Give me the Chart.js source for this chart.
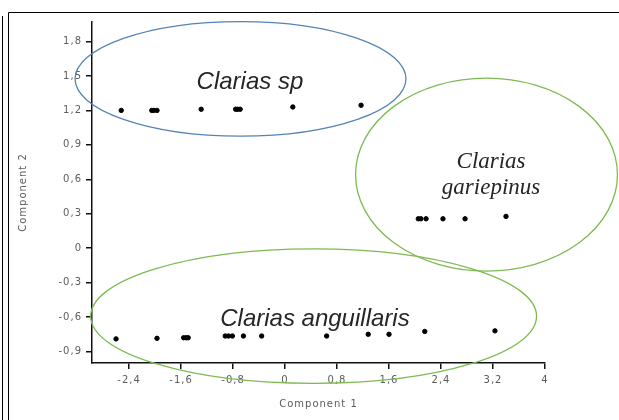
<!DOCTYPE html>
<html>
<head>
<meta charset="utf-8">
<script src="https://cdn.jsdelivr.net/npm/chart.js@4.4.0/dist/chart.umd.min.js"></script>
<style>
  body { margin: 0; background: #fff; }
  #wrap { width: 619px; height: 420px; }
</style>
</head>
<body>
<div id="wrap"><canvas id="pca"></canvas></div>
<script>
// scores (component 1, component 2)
var spX = [-2.52, -2.05, -2.02, -1.97, -1.29, -0.76, -0.73, -0.69, 0.12, 1.17];
var spY = [1.20, 1.20, 1.20, 1.20, 1.21, 1.21, 1.21, 1.21, 1.23, 1.245];

var gaX = [2.05, 2.09, 2.17, 2.43, 2.77, 3.40];
var gaY = [0.256, 0.256, 0.256, 0.256, 0.256, 0.277];

var anX = [-2.6, -1.97, -1.56, -1.52, -1.49, -0.92, -0.87, -0.81, -0.64, -0.36, 0.64, 1.28, 1.6, 2.15, 3.23];
var anY = [-0.79, -0.785, -0.78, -0.78, -0.78, -0.765, -0.765, -0.765, -0.765, -0.765, -0.765, -0.75, -0.75, -0.725, -0.72];

var xTicks = [-2.4, -1.6, -0.8, 0, 0.8, 1.6, 2.4, 3.2, 4];
var xTickLabels = ['-2,4', '-1,6', '-0,8', '0', '0,8', '1,6', '2,4', '3,2', '4'];
var yTicks = [-0.9, -0.6, -0.3, 0, 0.3, 0.6, 0.9, 1.2, 1.5, 1.8];
var yTickLabels = ['-0,9', '-0,6', '-0,3', '0', '0,3', '0,6', '0,9', '1,2', '1,5', '1,8'];

function pts(xs, ys) {
    var out = [];
    for (var i = 0; i < xs.length; i++) out.push({ x: xs[i], y: ys[i] });
    return out;
}

// group ellipses and their names, in data units
var groups = [
    { cx: -0.685, cy: 1.475, rx: 2.546, ry: 0.499, color: '#5583b5',
      lines: ['Clarias sp'], tx: -0.54, ty: [1.385], font: 'italic 24px "Liberation Sans"' },
    { cx: 3.1, cy: 0.641, rx: 2.015, ry: 0.84, color: '#7dbb52',
      lines: ['Clarias', 'gariepinus'], tx: 3.17, ty: [0.70, 0.472], font: 'italic 23px "Liberation Serif"' },
    { cx: 0.44, cy: -0.592, rx: 3.43, ry: 0.586, color: '#7dbb52',
      lines: ['Clarias anguillaris'], tx: 0.46, ty: [-0.68], font: 'italic 24px "Liberation Sans"' }
];

var framePlugin = {
    id: 'frame',
    beforeDraw: function (chart) {
        var ctx = chart.ctx;
        ctx.save();
        ctx.strokeStyle = '#000';
        ctx.lineWidth = 1;
        ctx.beginPath();
        ctx.moveTo(2.5, 16); ctx.lineTo(2.5, 420);
        ctx.moveTo(8.5, 420); ctx.lineTo(8.5, 12.5); ctx.lineTo(619, 12.5);
        ctx.stroke();
        ctx.restore();
        ctx.letterSpacing = '1px';
    },
    afterDraw: function (chart) {
        chart.ctx.letterSpacing = '0px';
    }
};

var groupPlugin = {
    id: 'groups',
    afterDatasetsDraw: function (chart) {
        var ctx = chart.ctx, xs = chart.scales.x, ys = chart.scales.y;
        ctx.save();
        ctx.letterSpacing = '0px';
        groups.forEach(function (g) {
            var px = xs.getPixelForValue(g.cx), py = ys.getPixelForValue(g.cy);
            var rx = xs.getPixelForValue(g.cx + g.rx) - px;
            var ry = py - ys.getPixelForValue(g.cy + g.ry);
            ctx.beginPath();
            ctx.ellipse(px, py, rx, ry, 0, 0, Math.PI * 2);
            ctx.strokeStyle = g.color;
            ctx.lineWidth = 1.3;
            ctx.stroke();
            ctx.fillStyle = '#262626';
            ctx.font = g.font;
            ctx.textAlign = 'center';
            ctx.textBaseline = 'alphabetic';
            g.lines.forEach(function (t, i) {
                ctx.fillText(t, xs.getPixelForValue(g.tx), ys.getPixelForValue(g.ty[i]));
            });
        });
        ctx.restore();
    }
};

var dotStyle = { backgroundColor: '#000', borderColor: '#000', pointRadius: 2.2, pointHoverRadius: 2.2 };

new Chart(document.getElementById('pca'), {
    type: 'scatter',
    data: {
        datasets: [
            Object.assign({ label: 'Clarias sp', data: pts(spX, spY) }, dotStyle),
            Object.assign({ label: 'Clarias gariepinus', data: pts(gaX, gaY) }, dotStyle),
            Object.assign({ label: 'Clarias anguillaris', data: pts(anX, anY) }, dotStyle)
        ]
    },
    options: {
        responsive: true,
        maintainAspectRatio: false,
        animation: false,
        events: [],
        layout: { padding: { left: 0, top: 22, right: 74, bottom: 0 } },
        plugins: { legend: { display: false }, tooltip: { enabled: false } },
        scales: {
            x: {
                type: 'linear',
                min: -2.97,
                max: 4,
                afterFit: function (s) { s.height = 57; },
                afterBuildTicks: function (s) { s.ticks = xTicks.map(function (v) { return { value: v }; }); },
                grid: { display: true, drawOnChartArea: false, drawTicks: true, tickLength: 6, color: '#111', lineWidth: 1.5 },
                border: { display: true, color: '#111', width: 1.5 },
                ticks: {
                    padding: 5,
                    color: '#5c5c5c',
                    font: { family: 'DejaVu Sans', size: 10 },
                    maxRotation: 0,
                    callback: function (v) { return xTickLabels[xTicks.indexOf(v)]; }
                },
                title: { display: true, text: 'Component 1', color: '#5c5c5c',
                         font: { family: 'DejaVu Sans', size: 10 }, padding: { top: 0, bottom: 10 } }
            },
            y: {
                type: 'linear',
                min: -1.0,
                max: 1.97,
                afterFit: function (s) { s.width = 92; },
                afterBuildTicks: function (s) { s.ticks = yTicks.map(function (v) { return { value: v }; }); },
                grid: { display: true, drawOnChartArea: false, drawTicks: true, tickLength: 6, color: '#111', lineWidth: 1.5 },
                border: { display: true, color: '#111', width: 1.5 },
                ticks: {
                    padding: 4,
                    color: '#5c5c5c',
                    font: { family: 'DejaVu Sans', size: 10 },
                    callback: function (v) { return yTickLabels[yTicks.indexOf(v)]; }
                },
                title: { display: true, text: 'Component 2', color: '#5c5c5c',
                         font: { family: 'DejaVu Sans', size: 10 }, padding: { top: 17, bottom: 0 } }
            }
        }
    },
    plugins: [framePlugin, groupPlugin]
});
</script>
</body>
</html>
